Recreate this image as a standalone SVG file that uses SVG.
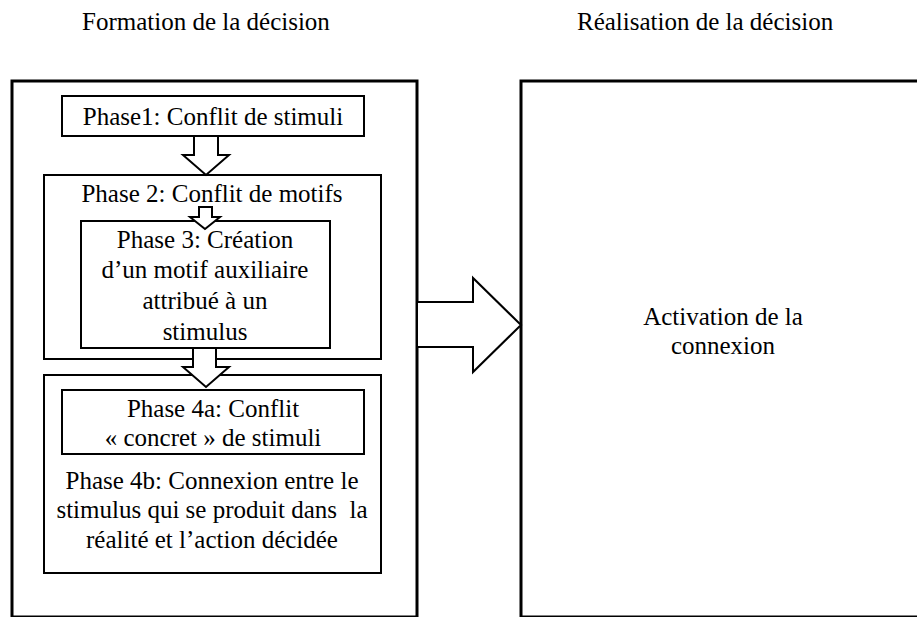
<svg xmlns="http://www.w3.org/2000/svg" width="917" height="617" viewBox="0 0 917 617">
<rect width="917" height="617" fill="#fff"/>
<text x="82" y="30" font-family="Liberation Serif" font-size="25">Formation de la décision</text>
<text x="577" y="30" font-family="Liberation Serif" font-size="25">Réalisation de la décision</text>
<g id="formation">
<rect x="12" y="81" width="405" height="536" fill="#fff" stroke="#000" stroke-width="3"/>
</g>
<g id="realisation">
<rect x="521" y="81" width="420" height="536" fill="#fff" stroke="#000" stroke-width="3"/>
<text x="723" y="325" font-family="Liberation Serif" font-size="25" text-anchor="middle">Activation de la</text>
<text x="723" y="354" font-family="Liberation Serif" font-size="25" text-anchor="middle">connexion</text>
</g>
<g id="phase1">
<rect x="62" y="96" width="302" height="40" fill="#fff" stroke="#000" stroke-width="2"/>
<text x="213" y="125" font-family="Liberation Serif" font-size="25" text-anchor="middle">Phase1: Conflit de stimuli</text>
</g>
<g id="phase2">
<rect x="44" y="175" width="337" height="184" fill="#fff" stroke="#000" stroke-width="2"/>
<text x="212" y="202" font-family="Liberation Serif" font-size="25" text-anchor="middle">Phase 2: Conflit de motifs</text>
</g>
<g id="phase3">
<rect x="81" y="221" width="249" height="127" fill="#fff" stroke="#000" stroke-width="2"/>
<text x="205" y="248" font-family="Liberation Serif" font-size="25" text-anchor="middle">Phase 3: Création</text>
<text x="205" y="278" font-family="Liberation Serif" font-size="25" text-anchor="middle">d’un motif auxiliaire</text>
<text x="205" y="309" font-family="Liberation Serif" font-size="25" text-anchor="middle">attribué à un</text>
<text x="205" y="340" font-family="Liberation Serif" font-size="25" text-anchor="middle">stimulus</text>
</g>
<g id="phase4">
<rect x="44" y="375" width="337" height="198" fill="#fff" stroke="#000" stroke-width="2"/>
<text x="212" y="489" font-family="Liberation Serif" font-size="25" text-anchor="middle">Phase 4b: Connexion entre le</text>
<text x="212" y="518" font-family="Liberation Serif" font-size="25" text-anchor="middle" xml:space="preserve">stimulus qui se produit dans  la</text>
<text x="212" y="548" font-family="Liberation Serif" font-size="25" text-anchor="middle">réalité et l’action décidée</text>
</g>
<g id="phase4a">
<rect x="62" y="390" width="302" height="64" fill="#fff" stroke="#000" stroke-width="2"/>
<text x="213" y="417" font-family="Liberation Serif" font-size="25" text-anchor="middle">Phase 4a: Conflit</text>
<text x="213" y="446" font-family="Liberation Serif" font-size="25" text-anchor="middle">« concret » de stimuli</text>
</g>
<g id="connectors" fill="#fff" stroke="#000" stroke-width="2">
<polygon points="194,136 218,136 218,155 229,155 206,175 183,155 194,155"/>
<polygon points="199,207 212,207 212,217 220,217 205,229 190,217 199,217"/>
<polygon points="193,348 216,348 216,367 229,367 206,387 183,367 193,367"/>
<polygon points="417,302 473,302 473,278 521,325 473,372 473,347 417,347"/>
</g>
</svg>
